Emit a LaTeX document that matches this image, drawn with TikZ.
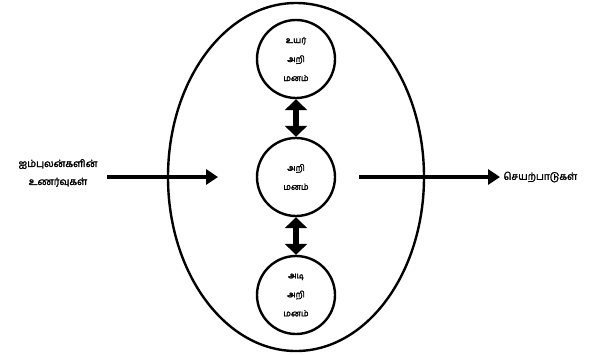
\documentclass[tikz,border=0pt]{standalone}
\usepackage{fontspec}
\newfontfamily\tamil[Script=Tamil,AutoFakeBold=2]{Hind Madurai}
\usetikzlibrary{arrows.meta,shapes.geometric}
\begin{document}
\begin{tikzpicture}[x=1pt,y=-1pt,
  mind/.style={circle,draw,line width=2.4pt,minimum size=78pt,inner sep=0pt,align=center,font=\tamil\bfseries\fontsize{8.5}{19}\selectfont},
  lbl/.style={align=center,font=\tamil\bfseries\fontsize{10}{18}\selectfont},
  bigarrow/.style={line width=4.5pt,-{Triangle[length=12pt,width=15pt]}},
  dblarrow/.style={line width=6pt,{Triangle[length=11pt,width=22pt]}-{Triangle[length=11pt,width=22pt]}}]
\useasboundingbox (0,0) rectangle (608,354);
\node[ellipse,draw,line width=2.4pt,minimum width=256pt,minimum height=348pt,inner sep=0pt] (outer) at (296,177) {};
\node[mind] (top) at (296,59) {உயர்\\அறி\\மனம்};
\node[mind] (mid) at (296,177) {அறி\\மனம்};
\node[mind] (bot) at (296,295) {அடி\\அறி\\மனம்};
\node[lbl] (in) at (58,173) {ஐம்புலன்களின்\\உணர்வுகள்};
\node[lbl,anchor=west] (out) at (500,177) {செயற்பாடுகள்};
\coordinate (inA) at (107,177);
\coordinate (inB) at (218,177);
\coordinate (outA) at (359,177);
\draw[bigarrow] (inA) -- (inB);
\draw[bigarrow] (outA) -- (out.west);
\draw[dblarrow] (top.south) -- (mid.north);
\draw[dblarrow] (mid.south) -- (bot.north);
\end{tikzpicture}
\end{document}
